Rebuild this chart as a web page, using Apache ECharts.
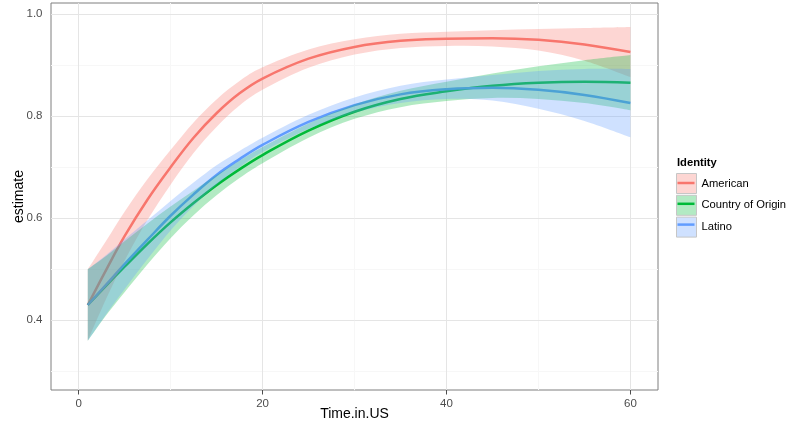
<!DOCTYPE html>
<html><head><meta charset="utf-8">
<script src="https://cdn.jsdelivr.net/npm/echarts@6/dist/echarts.min.js"></script>
<style>html,body{margin:0;padding:0;background:#fff}#c{width:790px;height:425px}</style>
</head><body><div id="c"></div>
<script>
// ---- data ----
const time = [1, 3, 5, 7.5, 10, 12.5, 15, 17.5, 20, 25, 30, 35, 40, 45, 50, 55, 60];
const identities = ['American', 'Country of Origin', 'Latino'];

const americanEst = [0.430, 0.499, 0.565, 0.637, 0.700, 0.758, 0.806, 0.845, 0.874, 0.913, 0.936, 0.948, 0.952, 0.953, 0.950, 0.941, 0.926];
const americanLo  = [0.360, 0.442, 0.517, 0.597, 0.666, 0.728, 0.779, 0.821, 0.852, 0.895, 0.921, 0.934, 0.938, 0.937, 0.929, 0.909, 0.877];
const americanHi  = [0.500, 0.556, 0.613, 0.677, 0.734, 0.788, 0.833, 0.869, 0.896, 0.931, 0.951, 0.962, 0.966, 0.969, 0.971, 0.973, 0.975];

const originEst = [0.430, 0.468, 0.505, 0.550, 0.592, 0.630, 0.665, 0.696, 0.724, 0.772, 0.809, 0.834, 0.849, 0.860, 0.866, 0.868, 0.866];
const originLo  = [0.360, 0.410, 0.455, 0.510, 0.561, 0.606, 0.645, 0.679, 0.708, 0.758, 0.795, 0.818, 0.830, 0.836, 0.834, 0.826, 0.812];
const originHi  = [0.500, 0.526, 0.555, 0.590, 0.623, 0.654, 0.685, 0.713, 0.740, 0.786, 0.823, 0.850, 0.868, 0.884, 0.898, 0.910, 0.920];

const latinoEst = [0.430, 0.470, 0.510, 0.558, 0.605, 0.647, 0.685, 0.716, 0.744, 0.789, 0.822, 0.843, 0.853, 0.856, 0.852, 0.842, 0.826];
const latinoLo  = [0.360, 0.412, 0.461, 0.520, 0.576, 0.624, 0.666, 0.700, 0.730, 0.775, 0.807, 0.826, 0.834, 0.831, 0.815, 0.791, 0.759];
const latinoHi  = [0.500, 0.528, 0.559, 0.596, 0.634, 0.670, 0.704, 0.732, 0.758, 0.803, 0.837, 0.860, 0.872, 0.881, 0.889, 0.893, 0.893];

const xTicks = [0, 20, 40, 60];
const xMinor = [10, 30, 50];
const yTicks = [0.4, 0.6, 0.8, 1.0];
const yMinor = [0.3, 0.5, 0.7, 0.9];

// ---- styling ----
const lineColors = ['#F8766D', '#00BA38', '#619CFF'];
const fillColors = ['rgba(248,118,109,0.3)', 'rgba(0,186,56,0.3)', 'rgba(97,156,255,0.3)'];
const FONT = 'Liberation Sans, Arial, sans-serif';

const groups = [
  { est: americanEst, lo: americanLo, hi: americanHi },
  { est: originEst, lo: originLo, hi: originHi },
  { est: latinoEst, lo: latinoLo, hi: latinoHi }
];

function curve(pts, move) {
  let d = (move ? 'M' : 'L') + pts[0][0] + ',' + pts[0][1];
  for (let i = 0; i < pts.length - 1; i++) {
    const p0 = pts[Math.max(i - 1, 0)], p1 = pts[i], p2 = pts[i + 1], p3 = pts[Math.min(i + 2, pts.length - 1)];
    const c1 = [p1[0] + (p2[0] - p0[0]) / 6, p1[1] + (p2[1] - p0[1]) / 6];
    const c2 = [p2[0] - (p3[0] - p1[0]) / 6, p2[1] - (p3[1] - p1[1]) / 6];
    d += 'C' + c1[0] + ',' + c1[1] + ' ' + c2[0] + ',' + c2[1] + ' ' + p2[0] + ',' + p2[1];
  }
  return d;
}

const series = [];
// grid lines (ggplot theme_bw style)
series.push({
  type: 'line', data: [], silent: true, z: 1,
  markLine: {
    z: 1, silent: true, symbol: ['none', 'none'], animation: false,
    label: { show: false }, emphasis: { disabled: true },
    data: [
      ...xMinor.map(v => ({ xAxis: v, lineStyle: { color: '#f7f7f7', width: 1, type: 'solid' } })),
      ...yMinor.map(v => ({ yAxis: v, lineStyle: { color: '#f7f7f7', width: 1, type: 'solid' } })),
      ...xTicks.map(v => ({ xAxis: v, lineStyle: { color: '#e5e5e5', width: 1, type: 'solid' } })),
      ...yTicks.map(v => ({ yAxis: v, lineStyle: { color: '#e5e5e5', width: 1, type: 'solid' } }))
    ]
  }
});
// fitted lines (below ribbons, as in the reference)
groups.forEach((g, k) => {
  series.push({
    type: 'line', name: identities[k], z: 2,
    data: time.map((t, i) => [t, g.est[i]]),
    symbol: 'none', smooth: 0.4,
    lineStyle: { color: lineColors[k], width: 2.5 },
    itemStyle: { color: lineColors[k] },
    emphasis: { disabled: true }
  });
});
// confidence ribbons
groups.forEach((g, k) => {
  series.push({
    type: 'custom', name: identities[k], z: 3, silent: true,
    data: [[time[0], g.est[0]]],
    itemStyle: { color: fillColors[k] },
    renderItem: function (params, api) {
      const up = time.map((t, i) => api.coord([t, g.hi[i]]));
      const dn = time.map((t, i) => api.coord([t, g.lo[i]])).reverse();
      const d = curve(up, true) + curve(dn, false) + 'Z';
      return { type: 'path', shape: { pathData: d }, style: { fill: fillColors[k], stroke: null } };
    }
  });
});

const chart = echarts.init(document.getElementById('c'), null, { renderer: 'canvas' });
chart.setOption({
  animation: false,
  backgroundColor: '#ffffff',
  textStyle: { fontFamily: FONT },
  title: {
    text: 'Identity', left: 677, top: 157, padding: 0,
    textStyle: { fontFamily: FONT, fontSize: 11.2, fontWeight: 'bold', color: '#000' }
  },
  legend: [
    {
      orient: 'vertical', left: 676, top: 173, padding: 0,
      itemWidth: 20, itemHeight: 20, itemGap: 0.8, itemTextGap: 4,
      selectedMode: false,
      textStyle: { fontFamily: FONT, fontSize: 11.2, color: '#000', lineHeight: 20 },
      data: identities.map((n, k) => ({
        name: n, icon: 'rect',
        itemStyle: { color: fillColors[k], borderColor: '#c6c6c6', borderWidth: 1, opacity: 1 }
      }))
    },
    {
      orient: 'vertical', left: 677.5, top: 173, padding: 0,
      itemWidth: 17, itemHeight: 2.5, itemGap: 0.8, itemTextGap: 4,
      selectedMode: false,
      textStyle: { fontFamily: FONT, fontSize: 11.2, color: 'rgba(0,0,0,0)', lineHeight: 20 },
      data: identities.map((n, k) => ({
        name: n, icon: 'rect',
        itemStyle: { color: lineColors[k], borderWidth: 0, opacity: 1 }
      }))
    }
  ],
  grid: {
    left: 51, right: 132, top: 3, bottom: 35,
    containLabel: false, outerBoundsMode: 'none',
    show: true, backgroundColor: '#ffffff', borderColor: '#7f7f7f', borderWidth: 1
  },
  xAxis: {
    type: 'value', min: -3, max: 63,
    name: 'Time.in.US', nameLocation: 'middle', nameGap: 17, nameMoveOverlap: false,
    nameTextStyle: { fontFamily: FONT, fontSize: 14, color: '#000' },
    axisLine: { show: false },
    axisTick: { show: true, customValues: xTicks, length: 4.5, lineStyle: { color: '#4d4d4d' } },
    axisLabel: { customValues: xTicks, margin: 8, fontFamily: FONT, fontSize: 11.5, color: '#4d4d4d' },
    splitLine: { show: false }
  },
  yAxis: {
    type: 'value', min: 0.2633, max: 1.0222,
    name: 'estimate', nameLocation: 'middle', nameGap: 25, nameMoveOverlap: false,
    nameTextStyle: { fontFamily: FONT, fontSize: 14, color: '#000' },
    axisLine: { show: false },
    axisTick: { show: true, customValues: yTicks, length: 4.5, lineStyle: { color: '#4d4d4d' } },
    axisLabel: { customValues: yTicks, margin: 8.5, fontFamily: FONT, fontSize: 11.5, color: '#4d4d4d',
      formatter: v => Number(v).toFixed(1) },
    splitLine: { show: false }
  },
  series: series
});
</script>
</body></html>
